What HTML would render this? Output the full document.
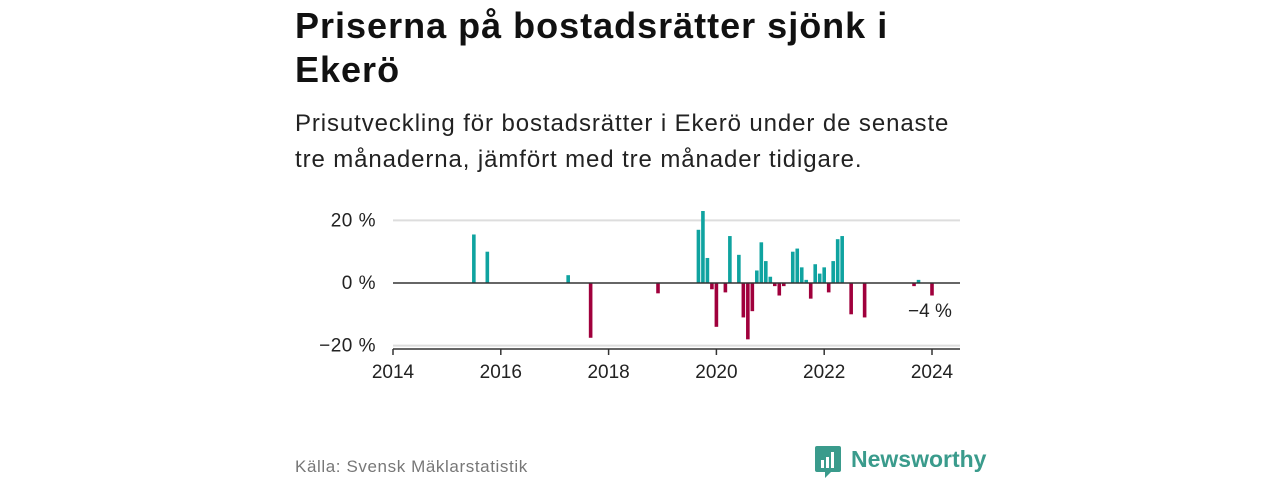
<!DOCTYPE html>
<html><head><meta charset="utf-8"><style>
body{margin:0;width:1280px;height:480px;background:#fff;font-family:"Liberation Sans","DejaVu Sans",sans-serif;overflow:hidden;position:relative}
#title{position:absolute;left:295px;top:4px;width:720px;font-size:36px;font-weight:bold;line-height:44px;color:#111;letter-spacing:1px}
#sub{position:absolute;left:295px;top:106px;width:760px;font-size:24px;line-height:36px;color:#222;letter-spacing:0.9px}
#src{position:absolute;left:295px;top:457px;font-size:17px;color:#777;letter-spacing:0.6px}
#logo{position:absolute;left:815px;top:446px}
#logotext{position:absolute;left:851px;top:446px;font-size:23px;color:#3a9b8c;font-weight:bold}
svg text{font-family:"Liberation Sans","DejaVu Sans",sans-serif}
</style></head><body>
<div id="title">Priserna på bostadsrätter sjönk i<br>Ekerö</div>
<div id="sub">Prisutveckling för bostadsrätter i Ekerö under de senaste<br>tre månaderna, jämfört med tre månader tidigare.</div>
<svg id="chart" width="1280" height="480" style="position:absolute;left:0;top:0"></svg>
<div id="src">Källa: Svensk Mäklarstatistik</div>
<svg id="logo" width="28" height="33"><path d="M0 2 Q0 0 2 0 H24 Q26 0 26 2 V24 Q26 26 24 26 H16 L10 32 L10 26 H2 Q0 26 0 24Z" fill="#3a9b8c"/><rect x="6" y="14" width="3" height="8" fill="#fff"/><rect x="11" y="11" width="3" height="11" fill="#fff"/><rect x="16" y="6" width="3" height="16" fill="#fff"/></svg>
<div id="logotext">Newsworthy</div>
<script>
const months=[18,21,39,44,59,68,69,70,71,72,74,75,77,78,79,80,81,82,83,84,85,86,87,89,90,91,92,93,94,95,96,97,98,99,100,102,105,116,117,120];
const values=[15.5,10,2.5,-17.5,-3.3,17,23,8,-2,-14,-3,15,9,-11,-18,-9,4,13,7,2,-1,-4,-1,10,11,5,1,-5,6,3,5,-3,7,14,15,-10,-11,-1,1,-4];
const yTicks=[20,0,-20];
const yTickLabels=["20 %","0 %","−20 %"];
const xTickYears=[2014,2016,2018,2020,2022,2024];
const NS="http://www.w3.org/2000/svg";
const svg=document.getElementById('chart');
const x=m=>393+m*(539/120);
const y=v=>283-v*3.13;
function mk(t,a){const e=document.createElementNS(NS,t);for(const k in a)e.setAttribute(k,a[k]);svg.appendChild(e);return e;}
yTicks.forEach((t,i)=>{
  if(t!==0){const g=mk('line',{x1:393,x2:960,y1:y(t),y2:y(t),stroke:'#ddd','stroke-width':2});
  
  }
  const tx=mk('text',{x:376,y:y(t)+6,'text-anchor':'end','font-size':19,fill:'#222','letter-spacing':0.5});tx.textContent=yTickLabels[i];
  
  
});
const ax=mk('line',{x1:393,x2:960,y1:349,y2:349,stroke:'#333','stroke-width':1.5});


xTickYears.forEach(yr=>{
  const xx=x((yr-2014)*12);
  mk('line',{x1:xx,x2:xx,y1:349,y2:355,stroke:'#333','stroke-width':1.5});
  const tx=mk('text',{x:xx,y:378,'text-anchor':'middle','font-size':19,fill:'#222'});tx.textContent=yr;
  
  
});
months.forEach((m,i)=>{
  const v=values[i];const top=Math.min(y(v),y(0));const h=Math.abs(y(v)-y(0));
  const r=mk('rect',{x:x(m)-1.8,y:top,width:3.6,height:h,fill:v>=0?'#0fa3a0':'#a0003c'});
  
  
});
const zl=mk('line',{x1:393,x2:960,y1:y(0),y2:y(0),stroke:'#333','stroke-width':1.5});


const last=values[values.length-1];
const lb=mk('text',{x:908,y:317,'font-size':19,fill:'#222'});lb.textContent=(last<0?'−':'')+Math.abs(last)+' %';


</script>
</body></html>
